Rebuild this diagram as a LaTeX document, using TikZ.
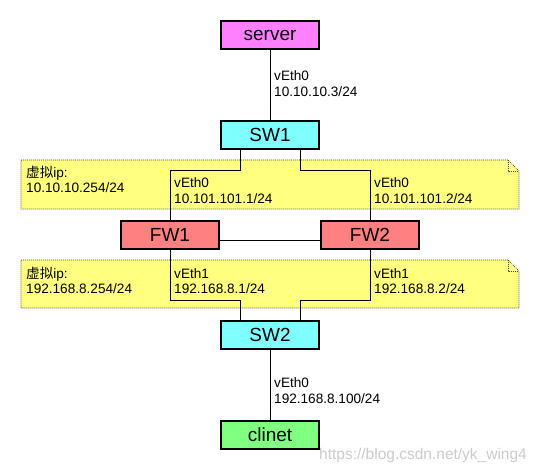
\documentclass[tikz,border=0pt]{standalone}
\usepackage{fontspec}
\setmainfont{Liberation Sans}
\newfontfamily\cjk{Noto Sans CJK SC}
\definecolor{srvc}{HTML}{FF80FF}
\definecolor{swc}{HTML}{80FFFF}
\definecolor{fwc}{HTML}{FF8080}
\definecolor{clc}{HTML}{80FF80}
\definecolor{notec}{HTML}{FFFF80}
\tikzset{
  dev/.style={draw=black, line width=1.2pt, minimum width=98pt, minimum height=28pt, inner sep=0pt,
    font=\fontsize{19}{22}\selectfont},
  lbl/.style={anchor=base west, inner sep=0pt, font=\fontsize{13.6}{16}\selectfont},
  note/.style={fill=notec, draw=black!75, line width=0.6pt, dash pattern=on 1pt off 1pt},
  wire/.style={draw=black, line width=0.9pt},
}
\begin{document}
\begin{tikzpicture}[x=1pt,y=-1pt]
\fill[white] (0,0) rectangle (540,470);
\useasboundingbox (0,0) rectangle (540,470);
% notes
\path[note] (21,160) -- (508,160) -- (519,171) -- (519,209) -- (21,209) -- cycle;
\draw[note, fill=none] (508,160) -- (508,171) -- (519,171);
\path[note] (21,260) -- (508,260) -- (519,271) -- (519,308) -- (21,308) -- cycle;
\draw[note, fill=none] (508,260) -- (508,271) -- (519,271);
% devices
\node[dev, fill=srvc] (server) at (270,35) {server};
\node[dev, fill=swc] (sw1) at (270,135) {SW1};
\node[dev, fill=fwc] (fw1) at (170,235) {FW1};
\node[dev, fill=fwc] (fw2) at (370,235) {FW2};
\node[dev, fill=swc] (sw2) at (270,335) {SW2};
\node[dev, fill=clc] (clinet) at (270,435) {clinet};
% wires
\draw[wire] (server) -- (sw1);
\draw[wire] ([xshift=-30pt]sw1.south) -- ++(0,21) -| (fw1.north);
\draw[wire] ([xshift=30pt]sw1.south) -- ++(0,21) -| (fw2.north);
\draw[wire] ([yshift=-5pt]fw1.east) -- ([yshift=-5pt]fw2.west);
\draw[wire] (fw1.south) -- ++(0,51) -| ([xshift=-30pt]sw2.north);
\draw[wire] (fw2.south) -- ++(0,51) -| ([xshift=30pt]sw2.north);
\draw[wire] (sw2) -- (clinet);
% labels
\node[lbl] (l1a) at (274,80.5) {vEth0};
\node[lbl] (l1b) at (274,96.5) {10.10.10.3/24};
\node[lbl] (n1a) at (26,177.5) {{\cjk 虚拟}ip:};
\node[lbl] (n1b) at (26,193) {10.10.10.254/24};
\node[lbl] (f1a) at (174,187.5) {vEth0};
\node[lbl] (f1b) at (174,203.5) {10.101.101.1/24};
\node[lbl] (f2a) at (374,187.5) {vEth0};
\node[lbl] (f2b) at (374,203.5) {10.101.101.2/24};
\node[lbl] (n2a) at (26,278.5) {{\cjk 虚拟}ip:};
\node[lbl] (n2b) at (26,293) {192.168.8.254/24};
\node[lbl] (g1a) at (174,278.5) {vEth1};
\node[lbl] (g1b) at (174,293) {192.168.8.1/24};
\node[lbl] (g2a) at (374,278.5) {vEth1};
\node[lbl] (g2b) at (374,293) {192.168.8.2/24};
\node[lbl] (l2a) at (274,387.5) {vEth0};
\node[lbl] (l2b) at (274,403.5) {192.168.8.100/24};
\node[anchor=base west, inner sep=0pt, text=black!20, font=\fontsize{15.5}{18}\selectfont] (wm) at (319,459) {https://blog.csdn.net/yk\_wing4};
\end{tikzpicture}
\end{document}
